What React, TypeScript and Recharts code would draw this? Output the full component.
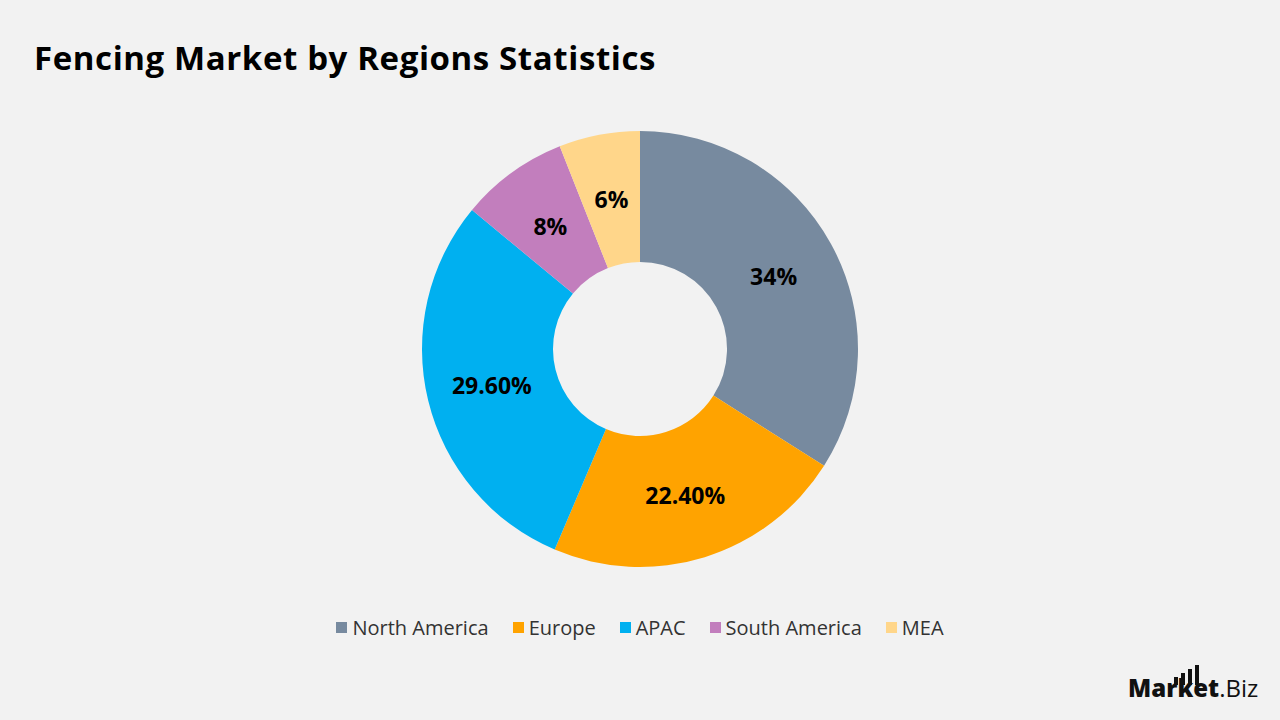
import React from 'react'
import { PieChart, Pie, Cell } from 'recharts'

const regions = ['North America', 'Europe', 'APAC', 'South America', 'MEA']
const shares = [34, 22.4, 29.6, 8, 6]
const colors = ['#778A9F', '#FFA300', '#00B0F0', '#C27EBD', '#FFD68A']

const data = regions.map((name, i) => ({ name, value: shares[i] }))

const FONT = '"Open Sans", "Noto Sans", sans-serif'
const RAD = Math.PI / 180

const fmt = (v: number) => (Number.isInteger(v) ? `${v}%` : `${v.toFixed(2)}%`)

function SliceLabel(props: any) {
  const { cx, cy, midAngle, innerRadius, outerRadius, value } = props
  const r = (innerRadius + outerRadius) / 2
  const x = cx + r * Math.cos(-midAngle * RAD)
  const y = cy + r * Math.sin(-midAngle * RAD)
  return (
    <text x={x} y={y} textAnchor="middle" dominantBaseline="central"
      style={{ fontFamily: FONT, fontSize: 23, fontWeight: 700, fill: '#000' }}>
      {fmt(value)}
    </text>
  )
}

// legend keeps the series order instead of Recharts' sorted payload
function LegendRow() {
  return (
    <div style={{ position: 'absolute', left: 0, top: 614, width: 1280, display: 'flex', justifyContent: 'center', fontFamily: FONT, fontSize: 20, color: '#333' }}>
      {regions.map((name, i) => (
        <div key={name} style={{ display: 'flex', alignItems: 'center', marginRight: i < regions.length - 1 ? 24 : 0 }}>
          <span style={{ width: 11, height: 11, background: colors[i], marginRight: 5, display: 'inline-block' }} />
          <span>{name}</span>
        </div>
      ))}
    </div>
  )
}

export default function App() {
  return (
    <div style={{ position: 'absolute', left: 0, top: 0, width: 1280, height: 720, background: '#F2F2F2', overflow: 'hidden' }}>
      <div style={{ position: 'absolute', left: 34, top: 35, fontFamily: FONT, fontWeight: 700, fontSize: 33, letterSpacing: 0.6, color: '#000', whiteSpace: 'nowrap' }}>
        Fencing Market by Regions Statistics
      </div>
      <PieChart width={1280} height={720} margin={{ top: 0, right: 0, bottom: 0, left: 0 }}>
        <Pie
          data={data}
          dataKey="value"
          nameKey="name"
          cx={640}
          cy={349}
          innerRadius={87}
          outerRadius={218}
          startAngle={90}
          endAngle={-270}
          stroke="none"
          label={SliceLabel}
          labelLine={false}
          isAnimationActive={false}
        >
          {data.map((d, i) => (
            <Cell key={d.name} fill={colors[i]} />
          ))}
        </Pie>
      </PieChart>
      <LegendRow />
      <div style={{ position: 'absolute', left: 1128, top: 671, fontFamily: FONT, fontSize: 24, color: '#111', display: 'flex', alignItems: 'flex-end', whiteSpace: 'nowrap' }}>
        <span style={{ fontWeight: 800 }}>Market</span>
        <span style={{ fontWeight: 400 }}>.Biz</span>
        <svg width={40} height={22} style={{ position: 'absolute', left: 46, top: -6 }}>
          <rect x={0} y={12} width={4} height={8} fill="#111" />
          <rect x={7} y={8} width={4} height={12} fill="#111" />
          <rect x={14} y={4} width={4} height={16} fill="#111" />
          <rect x={21} y={0} width={4} height={20} fill="#111" />
        </svg>
      </div>
    </div>
  )
}
